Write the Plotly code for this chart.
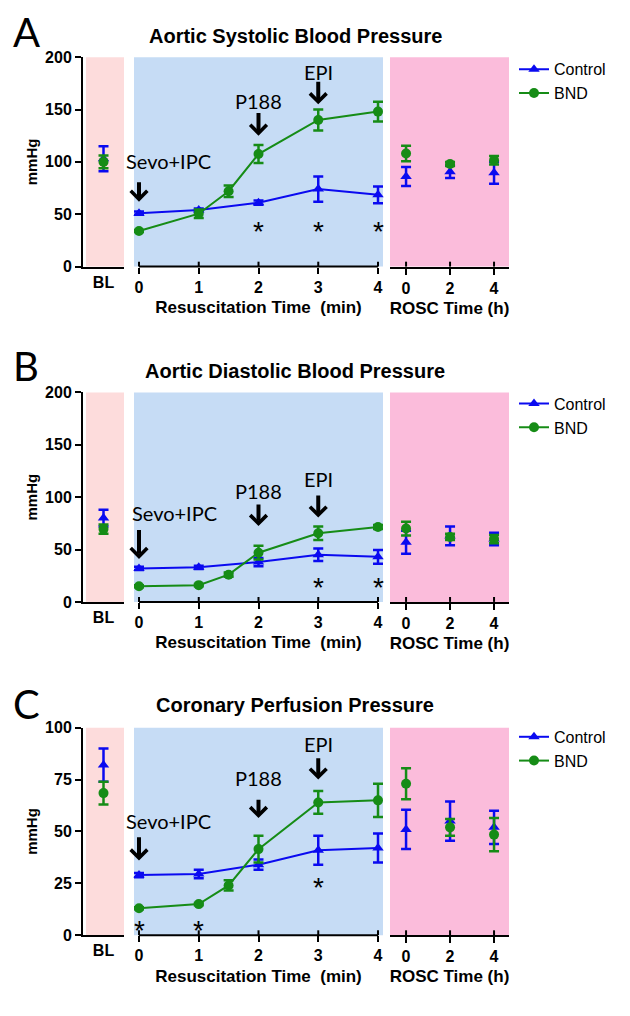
import plotly.graph_objects as go

W, H = 630, 1016

# ---------------- data ----------------
bl_x = ["BL"]
res_ctrl_x = [0, 1, 2, 3, 4]
res_bnd_x = [0, 1, 1.5, 2, 3, 4]
rosc_x = [0, 2, 4]
res_ticks = [0, 1, 2, 3, 4]
rosc_ticks = [0, 2, 4]
events = ["Sevo+IPC", "P188", "EPI"]
event_x = [0, 2, 3]

# Panel A: Aortic Systolic Blood Pressure
asp_ctrl_bl, asp_ctrl_bl_err = [103], [12]
asp_bnd_bl, asp_bnd_bl_err = [100], [6]
asp_ctrl = [51, 54, 61, 74, 68.5]
asp_ctrl_err = [1.5, 1.5, 2, 12, 8]
asp_bnd = [34, 50.5, 72, 107.5, 140, 148]
asp_bnd_err = [1, 4, 5.5, 8.5, 10, 9.5]
asp_ctrl_rosc = [86, 90.5, 89.5]
asp_ctrl_rosc_err = [9, 6, 10.5]
asp_bnd_rosc = [108, 98, 101.5]
asp_bnd_rosc_err = [7.5, 2, 4]
asp_star_x = [2, 3, 4]
asp_star_y = [37.5, 37.5, 37.5]
asp_evt_label_x = [0.5, 2, 3]
asp_evt_label_y = [101, 158, 186]
asp_evt_from = [82, 148, 178]
asp_evt_to = [62, 125, 155]

# Panel B: Aortic Diastolic Blood Pressure
adp_ctrl_bl, adp_ctrl_bl_err = [80], [8]
adp_bnd_bl, adp_bnd_bl_err = [69.5], [4.5]
adp_ctrl = [32, 33, 38, 45, 43]
adp_ctrl_err = [1.5, 1.5, 4, 6, 6.5]
adp_bnd = [15, 16, 26, 47, 65.5, 71.5]
adp_bnd_err = [1, 1, 2, 6.5, 6.5, 2]
adp_ctrl_rosc = [57, 63, 60]
adp_ctrl_rosc_err = [11, 9, 6]
adp_bnd_rosc = [70, 62, 60]
adp_bnd_rosc_err = [6.5, 3, 4]
adp_star_x = [3, 4]
adp_star_y = [18, 18]
adp_evt_label_x = [0.6, 2, 3]
adp_evt_label_y = [85, 105.5, 117]
adp_evt_from = [70, 94.5, 103]
adp_evt_to = [41, 72.5, 80.5]

# Panel C: Coronary Perfusion Pressure
cpp_ctrl_bl, cpp_ctrl_bl_err = [82], [8]
cpp_bnd_bl, cpp_bnd_bl_err = [68.5], [5.5]
cpp_ctrl = [29, 29.5, 34, 41, 42]
cpp_ctrl_err = [1, 2, 2.5, 7, 7]
cpp_bnd = [13, 15, 24, 41.5, 64, 65]
cpp_bnd_err = [0.5, 0.5, 2.5, 6.5, 5.5, 8]
cpp_ctrl_rosc = [51, 55, 52]
cpp_ctrl_rosc_err = [9.5, 9.5, 8]
cpp_bnd_rosc = [73, 52, 48.5]
cpp_bnd_rosc_err = [7.5, 4, 8]
cpp_star_x = [0, 1, 3]
cpp_star_y = [4, 4, 25]
cpp_evt_label_x = [0.5, 2, 3]
cpp_evt_label_y = [55, 76, 92.4]
cpp_evt_from = [48, 66, 86]
cpp_evt_to = [36, 56.5, 75]

# ---------------- styling / layout ----------------
BLUE = "#0a0af0"
GREEN = "#168c16"
BL_BG = "#fddcdc"
RES_BG = "#c6dcf5"
ROSC_BG = "#fbbcdb"
AX_FONT = "Liberation Sans, Arial, sans-serif"
NOTE_FONT = "Lato, Open Sans, sans-serif"

def fx(p):
    return p / W

def fy(p):
    return 1 - p / H

panels = [
    dict(letter="A", title="Aortic Systolic Blood Pressure", top=50, bottom=263, ymax=200, dtick=50,
         title_py=28, letter_py=24, legend_py=45,
         ctrl_bl=asp_ctrl_bl, ctrl_bl_err=asp_ctrl_bl_err, bnd_bl=asp_bnd_bl, bnd_bl_err=asp_bnd_bl_err,
         ctrl=asp_ctrl, ctrl_err=asp_ctrl_err, bnd=asp_bnd, bnd_err=asp_bnd_err,
         ctrl_rosc=asp_ctrl_rosc, ctrl_rosc_err=asp_ctrl_rosc_err,
         bnd_rosc=asp_bnd_rosc, bnd_rosc_err=asp_bnd_rosc_err,
         star_x=asp_star_x, star_y=asp_star_y,
         lx=asp_evt_label_x, ly=asp_evt_label_y, af=asp_evt_from, at=asp_evt_to),
    dict(letter="B", title="Aortic Diastolic Blood Pressure", top=391, bottom=604, ymax=200, dtick=50,
         title_py=369, letter_py=364, legend_py=385,
         ctrl_bl=adp_ctrl_bl, ctrl_bl_err=adp_ctrl_bl_err, bnd_bl=adp_bnd_bl, bnd_bl_err=adp_bnd_bl_err,
         ctrl=adp_ctrl, ctrl_err=adp_ctrl_err, bnd=adp_bnd, bnd_err=adp_bnd_err,
         ctrl_rosc=adp_ctrl_rosc, ctrl_rosc_err=adp_ctrl_rosc_err,
         bnd_rosc=adp_bnd_rosc, bnd_rosc_err=adp_bnd_rosc_err,
         star_x=adp_star_x, star_y=adp_star_y,
         lx=adp_evt_label_x, ly=adp_evt_label_y, af=adp_evt_from, at=adp_evt_to),
    dict(letter="C", title="Coronary Perfusion Pressure", top=732, bottom=943, ymax=100, dtick=25,
         title_py=709, letter_py=708, legend_py=724,
         ctrl_bl=cpp_ctrl_bl, ctrl_bl_err=cpp_ctrl_bl_err, bnd_bl=cpp_bnd_bl, bnd_bl_err=cpp_bnd_bl_err,
         ctrl=cpp_ctrl, ctrl_err=cpp_ctrl_err, bnd=cpp_bnd, bnd_err=cpp_bnd_err,
         ctrl_rosc=cpp_ctrl_rosc, ctrl_rosc_err=cpp_ctrl_rosc_err,
         bnd_rosc=cpp_bnd_rosc, bnd_rosc_err=cpp_bnd_rosc_err,
         star_x=cpp_star_x, star_y=cpp_star_y,
         lx=cpp_evt_label_x, ly=cpp_evt_label_y, af=cpp_evt_from, at=cpp_evt_to),
]

fig = go.Figure()
layout = dict(
    width=W, height=H, margin=dict(l=0, r=0, t=0, b=0),
    paper_bgcolor="white", plot_bgcolor="rgba(0,0,0,0)",
    font=dict(family=AX_FONT, color="black"),
    showlegend=True,
)
shapes = []
annotations = []

tickfont = dict(family=AX_FONT, size=16, color="black", weight="bold")
titlefont = dict(family=AX_FONT, size=17, color="black", weight="bold")

# resuscitation axis: ticks 0..4 span px 139..378, shaded area px 134..383
RES_L, RES_R, RES_SH_L, RES_SH_R = 139, 378, 134, 383
RES_UNIT = (RES_R - RES_L) / 4.0
res_range = [-(RES_L - RES_SH_L) / RES_UNIT, 4 + (RES_SH_R - RES_R) / RES_UNIT]

def errbar(vals, color):
    return dict(type="data", array=vals, visible=True, color=color, thickness=2.5, width=5)

for i, p in enumerate(panels, start=1):
    ysuf = "" if i == 1 else str(i)
    yname = "y" + ysuf
    xb, xr, xo = 3 * i - 2, 3 * i - 1, 3 * i
    xbn = "x" if xb == 1 else "x%d" % xb
    xrn, xon = "x%d" % xr, "x%d" % xo
    lname = "legend" if i == 1 else "legend%d" % i
    ydom = [fy(p["bottom"]), fy(p["top"])]
    tick_in = 5.0 / (p["bottom"] - p["top"])

    layout["yaxis" + ysuf] = dict(
        domain=ydom, range=[0, p["ymax"]], dtick=p["dtick"], anchor=xbn,
        showline=True, linewidth=2, linecolor="black", ticks="outside", ticklen=6,
        tickwidth=2, tickcolor="black", tickfont=tickfont, showgrid=False, zeroline=False,
        title=dict(text="mmHg", font=dict(family=AX_FONT, size=15, weight="bold"), standoff=4),
    )
    common_x = dict(anchor=yname, linewidth=2, linecolor="black",
                    showgrid=False, zeroline=False, tickfont=tickfont, tickcolor="black", tickwidth=2)
    layout["xaxis" + ("" if xb == 1 else str(xb))] = dict(
        domain=[fx(83), fx(124)], type="category", range=[-0.5, 0.5], ticks="", showline=True, **common_x)
    layout["xaxis%d" % xr] = dict(
        domain=[fx(RES_SH_L), fx(RES_SH_R)], range=res_range, tickvals=res_ticks, ticks="outside",
        ticklen=6, showline=False,
        title=dict(text="Resuscitation Time\u00a0 (min)", font=titlefont, standoff=6), **common_x)
    layout["xaxis%d" % xo] = dict(
        domain=[fx(390), fx(509)], range=[-0.73, 4.68], tickvals=rosc_ticks, ticks="outside", ticklen=6,
        showline=True,
        title=dict(text="ROSC Time (h)", font=titlefont, standoff=6), **common_x)

    # background shading
    for x0, x1, col in [(86, 124, BL_BG), (RES_SH_L, RES_SH_R, RES_BG), (390, 509, ROSC_BG)]:
        shapes.append(dict(type="rect", xref="paper", yref=yname + " domain",
                           x0=fx(x0), x1=fx(x1), y0=0, y1=1, fillcolor=col,
                           line=dict(width=0), layer="below"))
    # resuscitation axis line spanning the tick range only
    shapes.append(dict(type="line", xref=xrn, yref=yname + " domain", x0=res_ticks[0], x1=res_ticks[-1],
                       y0=0, y1=0, line=dict(color="black", width=2), layer="above"))
    # inner half of the crossing x ticks
    for axn, tv in [(xrn, res_ticks), (xon, rosc_ticks)]:
        for t in tv:
            shapes.append(dict(type="line", xref=axn, yref=yname + " domain", x0=t, x1=t,
                               y0=0, y1=tick_in, line=dict(color="black", width=2), layer="above"))

    # legend
    layout[lname] = dict(x=fx(514), y=fy(p["legend_py"]), xanchor="left", yanchor="top",
                         bgcolor="rgba(0,0,0,0)", font=dict(family=AX_FONT, size=16),
                         tracegroupgap=0, itemwidth=30)

    for name, color, sym, bl, blerr, xs, ys, yerr, ro, roerr in [
        ("Control", BLUE, "triangle-up", p["ctrl_bl"], p["ctrl_bl_err"], res_ctrl_x, p["ctrl"],
         p["ctrl_err"], p["ctrl_rosc"], p["ctrl_rosc_err"]),
        ("BND", GREEN, "circle", p["bnd_bl"], p["bnd_bl_err"], res_bnd_x, p["bnd"],
         p["bnd_err"], p["bnd_rosc"], p["bnd_rosc_err"]),
    ]:
        mk = dict(symbol=sym, size=10, color=color)
        fig.add_trace(go.Scatter(x=bl_x, y=bl, mode="markers", marker=mk, error_y=errbar(blerr, color),
                                 xaxis=xbn, yaxis=yname, showlegend=False, legendgroup=name + str(i),
                                 cliponaxis=False))
        fig.add_trace(go.Scatter(x=xs, y=ys, mode="lines+markers", marker=mk, line=dict(color=color, width=2),
                                 error_y=errbar(yerr, color), xaxis=xrn, yaxis=yname, name=name,
                                 legend=lname, legendgroup=name + str(i), cliponaxis=False))
        fig.add_trace(go.Scatter(x=rosc_x, y=ro, mode="markers", marker=mk, error_y=errbar(roerr, color),
                                 xaxis=xon, yaxis=yname, showlegend=False, legendgroup=name + str(i),
                                 cliponaxis=False))

    # title and panel letter
    annotations.append(dict(text="<b>%s</b>" % p["title"], x=fx(295), y=fy(p["title_py"]),
                            xref="paper", yref="paper", showarrow=False, xanchor="center", yanchor="middle",
                            font=dict(family=AX_FONT, size=20, color="black")))
    annotations.append(dict(text=p["letter"], x=fx(26), y=fy(p["letter_py"]), xref="paper", yref="paper",
                            showarrow=False, xanchor="center", yanchor="middle",
                            font=dict(family=NOTE_FONT, size=40, color="black")))

    # event arrows and labels
    for k in range(3):
        annotations.append(dict(text=events[k], x=p["lx"][k], y=p["ly"][k], xref=xrn, yref=yname,
                                showarrow=False, xanchor="center", yanchor="middle",
                                font=dict(family=NOTE_FONT, size=20, color="black")))
        annotations.append(dict(text="", x=event_x[k], y=p["at"][k], ax=event_x[k], ay=p["af"][k],
                                xref=xrn, yref=yname, axref=xrn, ayref=yname, showarrow=True,
                                arrowhead=4, arrowsize=0.8, arrowwidth=4, arrowcolor="black"))

    # significance asterisks
    for sx, sy in zip(p["star_x"], p["star_y"]):
        annotations.append(dict(text="*", x=sx, y=sy, xref=xrn, yref=yname, showarrow=False,
                                xanchor="center", yanchor="middle", yshift=-4,
                                font=dict(family=AX_FONT, size=28, color="black")))

layout["shapes"] = shapes
layout["annotations"] = annotations
fig.update_layout(**layout)
fig.write_html("out.html", config={"displayModeBar": False},
               post_script="document.body.style.margin='0';")
